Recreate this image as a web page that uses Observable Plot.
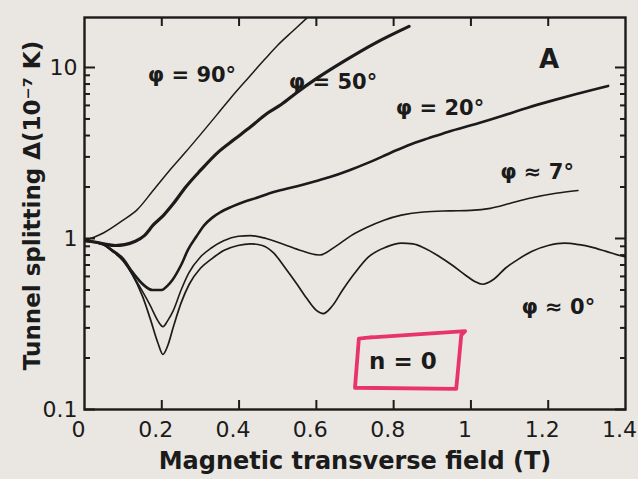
<!DOCTYPE html>
<html><head><meta charset="utf-8">
<script src="https://cdn.jsdelivr.net/npm/d3@7"></script>
<script src="https://cdn.jsdelivr.net/npm/@observablehq/plot@0.6"></script>
<style>
html,body{margin:0;padding:0;background:#eae7e2;}
#chart svg{display:block;}
</style></head>
<body><div id="chart"></div>
<script>
// ---- data ----
const phi0X = [0, 0.03, 0.05, 0.07, 0.1, 0.123, 0.15, 0.17, 0.19, 0.203, 0.215, 0.231, 0.25, 0.271, 0.3, 0.329, 0.36, 0.397, 0.43, 0.46, 0.49, 0.52, 0.55, 0.574, 0.6, 0.618, 0.64, 0.668, 0.7, 0.735, 0.78, 0.82, 0.85, 0.879, 0.92, 0.951, 0.986, 1.01, 1.03, 1.06, 1.089, 1.12, 1.157, 1.2, 1.242, 1.28, 1.312, 1.35, 1.39, 1.4];
const phi0Y = [0.97, 0.95, 0.92, 0.85, 0.74, 0.62, 0.46, 0.34, 0.245, 0.21, 0.235, 0.31, 0.42, 0.54, 0.67, 0.76, 0.85, 0.91, 0.93, 0.91, 0.82, 0.67, 0.54, 0.45, 0.38, 0.364, 0.40, 0.50, 0.63, 0.78, 0.89, 0.94, 0.93, 0.88, 0.78, 0.70, 0.61, 0.56, 0.54, 0.58, 0.67, 0.75, 0.84, 0.91, 0.94, 0.92, 0.89, 0.84, 0.79, 0.78];

const phi7X = [0, 0.03, 0.05, 0.07, 0.1, 0.123, 0.15, 0.169, 0.19, 0.203, 0.215, 0.23, 0.25, 0.27, 0.3, 0.328, 0.36, 0.398, 0.43, 0.47, 0.518, 0.56, 0.609, 0.65, 0.69, 0.73, 0.775, 0.82, 0.877, 0.946, 1.0, 1.05, 1.1, 1.152, 1.22, 1.277];
const phi7Y = [0.97, 0.95, 0.92, 0.85, 0.74, 0.62, 0.49, 0.41, 0.33, 0.305, 0.33, 0.38, 0.5, 0.63, 0.78, 0.88, 0.97, 1.03, 1.04, 1.0, 0.92, 0.85, 0.80, 0.90, 1.04, 1.16, 1.28, 1.37, 1.43, 1.45, 1.46, 1.5, 1.6, 1.72, 1.84, 1.91];

const phi20X = [0, 0.03, 0.05, 0.07, 0.1, 0.123, 0.155, 0.175, 0.2, 0.215, 0.227, 0.25, 0.268, 0.29, 0.309, 0.33, 0.351, 0.38, 0.41, 0.45, 0.479, 0.513, 0.56, 0.6, 0.633, 0.684, 0.73, 0.769, 0.81, 0.855, 0.889, 0.94, 1.017, 1.08, 1.145, 1.21, 1.273, 1.355];
const phi20Y = [0.97, 0.95, 0.92, 0.86, 0.76, 0.64, 0.53, 0.50, 0.50, 0.53, 0.57, 0.70, 0.86, 1.03, 1.19, 1.32, 1.42, 1.53, 1.63, 1.74, 1.84, 1.93, 2.05, 2.17, 2.28, 2.5, 2.75, 3.0, 3.3, 3.63, 3.85, 4.2, 4.7, 5.2, 5.8, 6.4, 7.0, 7.8];

const phi50X = [0, 0.03, 0.05, 0.08, 0.104, 0.13, 0.155, 0.178, 0.205, 0.23, 0.262, 0.3, 0.346, 0.388, 0.43, 0.473, 0.51, 0.548, 0.6, 0.675, 0.75, 0.84];
const phi50Y = [0.97, 0.95, 0.93, 0.91, 0.92, 0.96, 1.04, 1.2, 1.37, 1.6, 2.0, 2.5, 3.2, 3.8, 4.5, 5.4, 6.1, 7.1, 8.6, 11, 13.8, 17.4];

const phi90X = [0, 0.05, 0.1, 0.136, 0.177, 0.22, 0.26, 0.3, 0.343, 0.38, 0.426, 0.467, 0.5, 0.54, 0.576];
const phi90Y = [0.97, 1.08, 1.28, 1.47, 1.9, 2.5, 3.17, 4.05, 5.3, 6.7, 8.8, 11.2, 13.5, 16.4, 19.5];

// curve labels
const curveLabels = ["φ = 90°", "φ = 50°", "φ = 20°", "φ ≈ 7°", "φ ≈ 0°"];
const curveLabelX = [0.278, 0.643, 0.92, 1.171, 1.226];
const curveLabelY = [9.06, 8.15, 5.8, 2.43, 0.395];

// panel letter and annotation
const panelLetter = "A";
const panelX = 1.202, panelY = 11.07;
const noteText = "n = 0";
const noteX = 0.824, noteY = 0.19;
const boxX = [0.725, 0.985, 0.975, 0.962, 0.70, 0.71, 0.745];
const boxY = [0.262, 0.287, 0.272, 0.132, 0.134, 0.26, 0.265];

// axes
const xTickLabels = [0, 0.2, 0.4, 0.6, 0.8, 1, 1.2, 1.4];
const xInnerTicks = [0.2, 0.4, 0.6, 0.8, 1, 1.2];
const yMajor = [0.1, 1, 10];
const yMinor = [0.2, 0.3, 0.4, 0.5, 0.6, 0.7, 0.8, 0.9, 2, 3, 4, 5, 6, 7, 8, 9];
const xTitle = "Magnetic transverse field (T)";
const yTitle = "Tunnel splitting Δ(10⁻⁷ K)";

// ---- build ----
const toRows = (xs, ys) => xs.map((x, i) => ({x, y: ys[i]}));
const ink = "#1b1b1b";
const lineOpts = (w) => ({x: "x", y: "y", stroke: ink, strokeWidth: w, curve: "monotone-x", clip: true});
const blank = () => "";

const chart = Plot.plot({
  width: 638, height: 479,
  marginLeft: 84, marginRight: 13, marginTop: 17, marginBottom: 70,
  x: {domain: [0, 1.4]},
  y: {type: "log", domain: [0.1, 19.6]},
  style: {background: "transparent", fontFamily: "'DejaVu Sans', sans-serif", color: ink, overflow: "visible"},
  marks: [
    Plot.line(toRows(phi0X, phi0Y), lineOpts(1.7)),
    Plot.line(toRows(phi7X, phi7Y), lineOpts(1.6)),
    Plot.line(toRows(phi20X, phi20Y), lineOpts(2.6)),
    Plot.line(toRows(phi50X, phi50Y), lineOpts(3.2)),
    Plot.line(toRows(phi90X, phi90Y), lineOpts(1.5)),
    Plot.frame({stroke: ink, strokeWidth: 2.4}),
    // inward ticks
    Plot.axisX(xInnerTicks, {anchor: "bottom", tickSize: -9, tickFormat: blank, label: null, strokeWidth: 2}),
    Plot.axisX(xInnerTicks, {anchor: "top", tickSize: -8, tickFormat: blank, label: null, strokeWidth: 2}),
    Plot.axisY(yMajor, {anchor: "left", tickSize: -11, tickFormat: blank, label: null, strokeWidth: 2}),
    Plot.axisY(yMinor, {anchor: "left", tickSize: -6, tickFormat: blank, label: null, strokeWidth: 2}),
    Plot.axisY(yMajor, {anchor: "right", tickSize: -11, tickFormat: blank, label: null, strokeWidth: 2}),
    Plot.axisY(yMinor, {anchor: "right", tickSize: -6, tickFormat: blank, label: null, strokeWidth: 2}),
    // tick labels
    Plot.axisX(xTickLabels, {anchor: "bottom", tickSize: 0, tickPadding: 12, dx: -6, label: null, fontSize: 22,
      tickFormat: d => String(d)}),
    Plot.axisY(yMajor, {anchor: "left", tickSize: 0, tickPadding: 7, label: null, fontSize: 22,
      tickFormat: d => String(d)}),
    // titles
    Plot.text([xTitle], {frameAnchor: "bottom", lineAnchor: "middle", textAnchor: "middle", dy: 52, text: d => d, fontSize: 24, fontWeight: "bold", fill: ink}),
    Plot.text([yTitle], {frameAnchor: "left", lineAnchor: "middle", textAnchor: "middle", dx: -52, dy: -8, rotate: -90, text: d => d, fontSize: 23, fontWeight: "bold", fill: ink}),
    // curve labels
    Plot.text(curveLabels, {x: (d, i) => curveLabelX[i], y: (d, i) => curveLabelY[i], text: d => d, fontSize: 21, fontWeight: "bold", fill: ink}),
    Plot.text([panelLetter], {x: [panelX], y: [panelY], text: d => d, fontSize: 26, fontWeight: "bold", fill: ink}),
    // annotation
    Plot.line(toRows(boxX, boxY), {x: "x", y: "y", stroke: "#e8336b", strokeWidth: 3.8, strokeLinejoin: "round", strokeLinecap: "round"}),
    Plot.text([noteText], {x: [noteX], y: [noteY], text: d => d, fontSize: 23, fontWeight: "bold", fill: ink})
  ]
});
document.getElementById("chart").appendChild(chart);
</script>
</body></html>
